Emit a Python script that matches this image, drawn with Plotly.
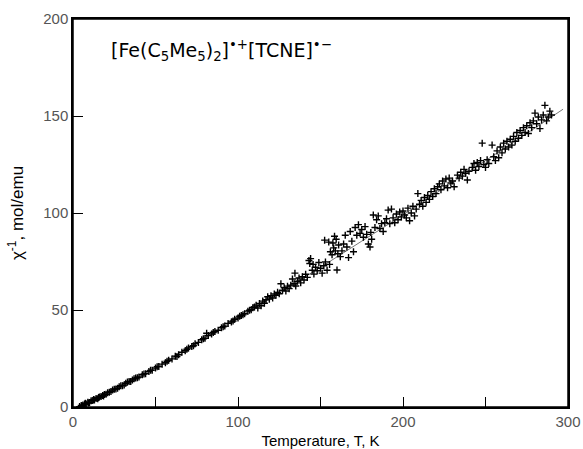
import plotly.graph_objects as go

# Low-temperature data (dense band)
temp_low = [4, 5, 5.5, 6, 7, 7.5, 8, 9, 9.5, 10, 11, 12, 12.5, 13, 14, 15, 15.5, 16, 17, 18, 18.5,
            19, 20, 21, 22, 23, 24, 25, 26, 27, 28, 29, 30, 31, 32, 33, 34, 35, 36, 37, 38, 39,
            40, 42, 43, 44, 46, 47, 48, 50, 51, 52, 54, 56, 57, 58, 60, 62, 63, 64, 66, 68, 69,
            70, 72, 73, 74, 76, 78, 79, 80, 81, 82, 84, 85, 86, 88, 90, 91, 92, 94, 96, 97, 98,
            100, 101, 102, 103, 104, 106, 107, 108, 109, 110]
chi_low = [0.2, 0.8, 0.3, 1.0, 1.6, 1.9, 1.5, 2.4, 2.0, 2.3, 3.2, 3.4, 3.9, 3.6, 4.4, 4.3, 4.9, 5.2,
           5.4, 5.9, 5.7, 6.5, 6.6, 7.4, 7.6, 8.0, 8.7, 9.2, 9.3, 9.7, 10.5, 11.0, 11.0, 11.3, 12.2,
           12.9, 13.1, 13.2, 13.9, 14.5, 14.9, 15.1, 15.5, 16.6, 17.0, 17.2, 18.3, 18.9, 19.0, 20.1,
           20.8, 20.9, 22.1, 22.8, 23.6, 24.1, 24.8, 26.2, 26.0, 26.9, 28.2, 29.0, 29.8, 30.4, 31.2,
           31.6, 32.6, 33.3, 34.7, 35.2, 35.4, 38.0, 36.8, 37.6, 38.4, 38.9, 39.6, 40.9, 41.4, 41.7,
           43.1, 43.8, 44.3, 45.2, 45.9, 46.8, 47.2, 47.5, 48.1, 49.4, 49.9, 50.1, 51.2, 51.6]

# Higher-temperature data (scattered)
temp_high = [111, 112, 113, 114, 115, 116, 117, 118, 119, 120, 121, 122, 123, 124, 125, 126, 127, 128,
             129, 130, 131, 132, 133, 134, 134.5, 135, 136, 137, 138, 139, 140, 141, 142, 143, 143.5,
             144, 145, 145.5, 146, 147, 148, 149, 150, 151, 152, 152.5, 153, 154, 155, 155.5, 156,
             157, 157.5, 158, 158.5, 159, 159.5, 160, 160.5, 161, 162, 163, 164, 165, 166, 167, 168,
             169, 170, 171, 172, 173, 174, 175, 176, 177, 178, 179, 180, 180.5, 181, 182, 183, 184,
             185, 186, 187, 188, 189, 190, 191, 192, 193, 194, 195, 196, 197, 198, 199, 200, 201, 202,
             203, 204, 205, 206, 207, 208, 209, 210, 211, 212, 213, 214, 215, 216, 217, 218, 219, 220,
             221, 222, 223, 224, 225, 226, 227, 228, 229, 230, 231, 233, 234, 235, 236, 237, 238, 239,
             240, 242, 243, 244, 245, 246, 247, 248, 249, 250, 251, 252, 254, 255, 256, 257, 258, 259,
             260, 261, 262, 263, 264, 265, 266, 267, 268, 269, 270, 271, 272, 273, 274, 275, 276, 277,
             278, 279, 280, 281, 282, 283, 284, 285, 286, 287, 288, 289, 290]
chi_high = [52.5, 51.0, 53.4, 52.2, 54.6, 53.5, 55.3, 56.8, 55.6, 57.4, 56.2, 58.3, 57.6, 59.1, 58.4,
            63.5, 60.2, 61.5, 59.8, 62.3, 61.0, 62.8, 66.0, 63.5, 69.0, 62.4, 64.8, 66.5, 64.0, 67.2,
            65.5, 68.4, 66.8, 75.5, 74.0, 76.5, 70.5, 73.5, 68.5, 72.0, 70.2, 74.5, 71.5, 69.0, 72.8,
            86.0, 74.8, 70.5, 85.0, 73.5, 80.0, 78.5, 84.5, 82.0, 88.0, 80.5, 86.5, 70.6, 79.0, 83.5,
            77.5, 80.5, 84.0, 88.5, 82.5, 77.0, 90.5, 85.5, 80.0, 92.5, 88.5, 94.0, 89.5, 91.5, 87.5,
            93.0, 89.0, 84.0, 82.5, 90.0, 86.5, 99.0, 92.5, 96.5, 98.5, 92.0, 94.5, 90.5, 95.0, 97.0,
            101.5, 94.5, 102.0, 97.5, 95.0, 99.5, 96.5, 100.5, 98.0, 101.0, 99.0, 97.5, 102.5, 96.0,
            100.0, 103.5, 98.5, 102.0, 110.0, 104.5, 106.5, 103.5, 108.0, 105.5, 109.0, 107.0, 111.0,
            108.5, 112.5, 110.0, 113.5, 115.0, 112.0, 116.5, 114.0, 117.5, 113.0, 118.0, 115.5, 116.5,
            113.5, 119.5, 118.0, 121.0, 119.0, 122.5, 120.5, 117.0, 121.5, 123.5, 125.5, 122.0, 126.0,
            124.0, 127.0, 136.0, 125.0, 123.5, 127.5, 125.5, 135.0, 129.0, 127.0, 132.0, 128.5, 134.0,
            131.0, 136.0, 133.0, 137.0, 134.0, 138.0, 135.0, 139.5, 137.0, 141.5, 138.5, 142.5, 140.0,
            144.0, 141.5, 145.0, 141.0, 146.5, 144.0, 147.5, 151.5, 146.0, 149.5, 143.5, 148.0, 150.5,
            155.5, 147.5, 149.5, 152.5, 150.5]

# Fitted curve
fit_temp = [5, 10, 15, 20, 25, 30, 40, 50, 60, 70, 80, 90, 100, 125, 150, 175, 200, 225, 250, 275, 297]
fit_chi = [0.5, 2.5, 4.5, 6.8, 9.0, 11.2, 15.6, 20.0, 25.0, 30.5, 35.5, 40.8, 46.0, 59.0, 72.0, 85.5,
           99.0, 113.0, 127.0, 141.0, 153.5]

x_tickvals = [0, 50, 100, 150, 200, 250, 300]
x_ticktext = ["0", "", "100", "", "200", "", "300"]
y_ticks = [0, 50, 100, 150, 200]

FONT = "Liberation Sans, Arial"

fig = go.Figure()
fig.add_trace(go.Scatter(x=fit_temp, y=fit_chi, mode="lines",
                         line=dict(color="#555555", width=0.8), line_shape="spline",
                         showlegend=False, hoverinfo="skip"))
fig.add_trace(go.Scatter(x=temp_low + temp_high, y=chi_low + chi_high, mode="markers",
                         marker=dict(symbol="cross-thin", size=5, color="black",
                                     line=dict(color="black", width=1.4)),
                         showlegend=False))

fig.add_annotation(x=22, y=184, xref="x", yref="y", xanchor="left", yanchor="middle",
                   text="[Fe(C<sub>5</sub>Me<sub>5</sub>)<sub>2</sub>]<sup>•+</sup>[TCNE]<sup>•−</sup>",
                   showarrow=False, font=dict(family="DejaVu Sans", size=19, color="black"))

# frame around the plotting area
fig.add_shape(type="rect", xref="paper", yref="paper", x0=0, x1=1, y0=0, y1=1,
              line=dict(color="black", width=1.5), layer="above")

fig.update_layout(
    width=583, height=449, margin=dict(l=73, r=15, t=19, b=42),
    paper_bgcolor="white", plot_bgcolor="white",
    xaxis=dict(range=[0, 300], tickmode="array", tickvals=x_tickvals, ticktext=x_ticktext,
               showline=True, mirror=True, linecolor="black", linewidth=1.5,
               ticks="inside", ticklen=10, tickcolor="black",
               showgrid=False, zeroline=False, automargin=False,
               tickfont=dict(family=FONT, size=15, color="#555555"),
               title=dict(text="Temperature, T, K",
                          font=dict(family=FONT, size=15, color="black"))),
    yaxis=dict(range=[0, 200], tickmode="array", tickvals=y_ticks,
               showline=True, mirror=True, linecolor="black", linewidth=1.5,
               ticks="inside", ticklen=10, tickcolor="black",
               showgrid=False, zeroline=False, automargin=False,
               tickfont=dict(family=FONT, size=15, color="#555555"),
               title=dict(text="χ<sup>-1</sup>, mol/emu",
                          font=dict(family=FONT, size=17, color="black"))),
)

fig.write_html("out.html", config={"displayModeBar": False},
               post_script="document.body.style.margin='0';")
